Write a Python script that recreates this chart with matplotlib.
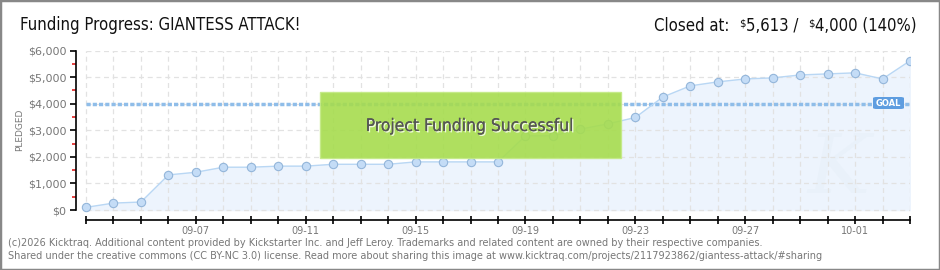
import numpy as np
import matplotlib.pyplot as plt
from matplotlib.patches import Rectangle, FancyBboxPatch
import matplotlib.patheffects as pe

# Daily pledged totals, 09-03 .. 10-03
days = ["09-03", "09-04", "09-05", "09-06", "09-07", "09-08", "09-09", "09-10",
        "09-11", "09-12", "09-13", "09-14", "09-15", "09-16", "09-17", "09-18",
        "09-19", "09-20", "09-21", "09-22", "09-23", "09-24", "09-25", "09-26",
        "09-27", "09-28", "09-29", "09-30", "10-01", "10-02", "10-03"]
pledged = [100, 260, 300, 1320, 1420, 1610, 1610, 1650, 1650, 1720, 1720,
           1720, 1810, 1810, 1810, 1810, 2790, 2790, 3040, 3240, 3480, 4250,
           4670, 4820, 4930, 4970, 5080, 5120, 5160, 4930, 5613]
goal = 4000
yticks = [0, 1000, 2000, 3000, 4000, 5000, 6000]
ytick_labels = ["$0", "$1,000", "$2,000", "$3,000", "$4,000", "$5,000", "$6,000"]

W, H = 940, 270
fig = plt.figure(figsize=(W / 100, H / 100), dpi=100)
fig.patch.set_facecolor("white")

def fx(px):
    return px / W

def fy(py):
    return 1 - py / H

# axes: y spine at x=76, last point at x=910, $6000 at y=50.5, x-axis line at y=220
ppd = (910 - 86) / 30.0
ppk = (210 - 50.5) / 6000.0
x0 = -(86 - 76) / ppd
ymin = -(220 - 210) / ppk
ax = fig.add_axes([fx(76), fy(220), fx(910 - 76), (220 - 50.5) / H])
ax.set_xlim(x0, 30)
ax.set_ylim(ymin, 6000)

x = np.arange(len(pledged))

# grid
for xi in x:
    ax.plot([xi, xi], [0, 6000], color="#e2e2e2", lw=0.9, ls=(0, (4, 3)), zorder=1)
for yv in yticks:
    ax.plot([0, 30], [yv, yv], color="#e2e2e2", lw=0.9, ls=(0, (4, 3)), zorder=1)

ax.fill_between(x, 0, pledged, color="#edf4fd", zorder=0.5)
ax.text(27.4, 1500, "K", fontsize=60, color="#e9f1fa", style="italic",
        ha="center", va="center", zorder=0.6, family="DejaVu Serif")
ax.plot(x, pledged, color="#b9d7f4", lw=1, zorder=3)
ax.plot(x, pledged, "o", ms=6, mfc="#c4dcf6", mec="#94b6da", mew=0.8, zorder=4)

# goal line
ax.plot([0, 30], [goal, goal], color="#8fbde9", lw=2.5, ls=(0, (1.2, 0.6)), zorder=2)

# spines / ticks
for s in ["top", "right"]:
    ax.spines[s].set_visible(False)
ax.spines["left"].set_bounds(0, 6000)
ax.spines["bottom"].set_bounds(0, 30)
ax.spines["left"].set_linewidth(1.2)
ax.spines["bottom"].set_linewidth(1.2)
ax.set_yticks(yticks)
ax.set_yticklabels(ytick_labels)
ax.set_yticks(np.arange(500, 6000, 1000), minor=True)
ax.tick_params(axis="y", which="major", length=4, width=1.2, color="black",
               labelsize=8, labelcolor="#777777", pad=3)
ax.tick_params(axis="y", which="minor", length=3, width=1.2, color="#e02020")
ax.set_xticks(x)
ax.set_xticklabels([d if i % 4 == 0 and i > 0 else "" for i, d in enumerate(days)])
ax.tick_params(axis="x", which="major", length=6, width=1.2, direction="inout",
               labelsize=7, labelcolor="#777777", pad=1)

fig.text(fx(20), fy(130), "PLEDGED", rotation=90, ha="center", va="center",
         fontsize=6.5, color="#777777")

# GOAL label
goal_box = FancyBboxPatch((fx(873), fy(109)), fx(31), 12 / H,
                          boxstyle="round,pad=0,rounding_size=0.004",
                          transform=fig.transFigure, fc="#5e9de0", ec="none", zorder=5)
fig.patches.append(goal_box)
fig.text(fx(888), fy(103), "GOAL", ha="center", va="center", fontsize=6,
         color="white", fontweight="bold", zorder=6)

# success banner
fig.patches.append(Rectangle((fx(320), fy(158)), fx(301), 66 / H,
                             transform=fig.transFigure, fc="#a6dc4e", ec="#c4ea86",
                             lw=1, alpha=0.9, zorder=5))
fig.text(fx(470), fy(126), "Project Funding Successful", ha="center", va="center",
         fontsize=12.5, color="#555555", fontstretch="condensed", zorder=6,
         path_effects=[pe.withSimplePatchShadow(offset=(1, -1), shadow_rgbFace="white", alpha=0.8),
                       pe.Normal()])

# title
fig.text(fx(20), fy(25), "Funding Progress: GIANTESS ATTACK!", ha="left", va="center",
         fontsize=12, color="#111111", fontstretch="condensed")

# "Closed at" built right to left
fig.canvas.draw()
r = fig.canvas.get_renderer()
pieces = [("4,000 (140%)", 12, 0), ("\\$", 8, -5), ("5,613 /  ", 12, 0),
          ("\\$", 8, -5), ("Closed at:  ", 12, 0)]
xr = 917
for s, sz, dy in pieces:
    t = fig.text(fx(xr), fy(31 + dy), s, ha="right", va="baseline", fontsize=sz,
                 color="#111111", fontstretch="condensed")
    xr = t.get_window_extent(r).x0 - 0.5

# footer
fig.text(fx(8), fy(243), "(c)2026 Kicktraq. Additional content provided by Kickstarter Inc. and Jeff Leroy. "
         "Trademarks and related content are owned by their respective companies.",
         ha="left", va="center", fontsize=7, color="#777777")
fig.text(fx(8), fy(256), "Shared under the creative commons (CC BY-NC 3.0) license. Read more about sharing "
         "this image at www.kicktraq.com/projects/2117923862/giantess-attack/#sharing",
         ha="left", va="center", fontsize=7, color="#777777")

# outer frame
fig.patches.append(Rectangle((0, 0), 1, 1, transform=fig.transFigure, fill=False,
                             ec="#888888", lw=2.5, zorder=10))

fig.savefig("out.png", dpi=100)
